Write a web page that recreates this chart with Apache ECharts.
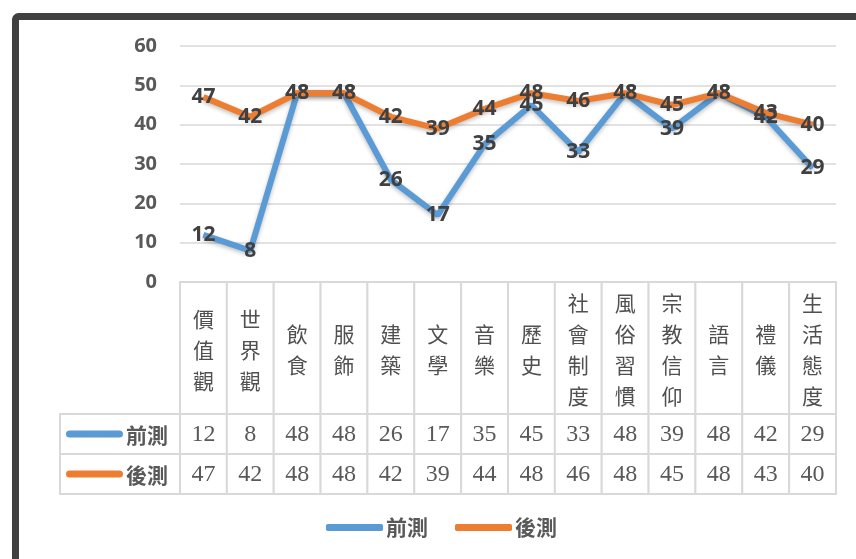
<!DOCTYPE html>
<html>
<head>
<meta charset="utf-8">
<script src="https://cdn.jsdelivr.net/npm/echarts@6/dist/echarts.min.js"></script>
<style>
  html, body { margin: 0; padding: 0; background: #fff; }
  #chart { width: 856px; height: 559px; }
</style>
</head>
<body>
<div id="chart"></div>
<script>
// 類別與數值
var categories = ["價值觀", "世界觀", "飲食", "服飾", "建築", "文學", "音樂", "歷史", "社會制度", "風俗習慣", "宗教信仰", "語言", "禮儀", "生活態度"];
var seriesNames = ["前測", "後測"];
var preTest = [12, 8, 48, 48, 26, 17, 35, 45, 33, 48, 39, 48, 42, 29];
var postTest = [47, 42, 48, 48, 42, 39, 44, 48, 46, 48, 45, 48, 43, 40];
var yTicks = [0, 10, 20, 30, 40, 50, 60];

var colors = ["#5B9BD5", "#ED7D31"];
var gridColor = "#d9d9d9";
var cjk = "'Noto Sans CJK TC', 'Noto Sans', sans-serif";

var chart = echarts.init(document.getElementById("chart"));

// 表格資料
var headerData = categories.map(function (c, i) { return [i, 0]; });
var rowData = [];
preTest.forEach(function (v, i) { rowData.push([i, 0, v]); });
postTest.forEach(function (v, i) { rowData.push([i, 1, v]); });
var legendRows = seriesNames.map(function (n, i) { return [0, i]; });

function cellRect(api) {
  var c = api.coord([api.value(0), api.value(1)]);
  var s = api.size([1, 1]);
  return { x: c[0] - s[0] / 2, y: c[1] - s[1] / 2, width: s[0], height: s[1], cx: c[0], cy: c[1] };
}

var lineLabel = { show: true, position: "inside", fontFamily: "'Open Sans', sans-serif", fontSize: 21, fontWeight: "bold", color: "#404040" };

var option = {
  backgroundColor: "#fff",
  animation: false,
  color: colors,
  graphic: [
    {
      type: "rect",
      shape: { x: 15.5, y: 16.5, width: 900, height: 600, r: 3 },
      style: { fill: "none", stroke: "#404040", lineWidth: 7 },
      z: 100
    }
  ],
  legend: {
    data: seriesNames.map(function (n) { return { name: n, icon: "roundRect" }; }),
    left: 326,
    top: 517,
    padding: 0,
    itemWidth: 57,
    itemHeight: 7,
    itemGap: 27,
    textStyle: { fontFamily: cjk, fontSize: 21, fontWeight: "bold", color: "#595959", padding: [0, 0, 0, -2] }
  },
  grid: [
    { left: 180, top: 46, width: 656, height: 236 },
    { left: 180, top: 282, width: 656, height: 132 },
    { left: 180, top: 414, width: 656, height: 80 },
    { left: 60, top: 414, width: 120, height: 80 }
  ],
  xAxis: [
    { gridIndex: 0, type: "category", data: categories, boundaryGap: true,
      axisLine: { show: false }, axisTick: { show: false }, axisLabel: { show: false } },
    { gridIndex: 1, type: "category", data: categories, show: false },
    { gridIndex: 2, type: "category", data: categories, show: false },
    { gridIndex: 3, type: "category", data: ["x"], show: false }
  ],
  yAxis: [
    { gridIndex: 0, type: "value", min: yTicks[0], max: yTicks[yTicks.length - 1], interval: 10,
      axisLine: { show: false }, axisTick: { show: false },
      axisLabel: { margin: 23, fontFamily: "'Open Sans', sans-serif", fontSize: 20, fontWeight: "bold", color: "#595959" },
      splitLine: { lineStyle: { color: gridColor, width: 1.5 } } },
    { gridIndex: 1, type: "category", data: ["h"], show: false },
    { gridIndex: 2, type: "category", data: seriesNames, inverse: true, show: false },
    { gridIndex: 3, type: "category", data: seriesNames, inverse: true, show: false }
  ],
  series: [
    {
      name: seriesNames[0], type: "line", data: preTest, xAxisIndex: 0, yAxisIndex: 0,
      symbol: "circle", symbolSize: 1, showSymbol: true,
      lineStyle: { width: 6, color: colors[0], shadowColor: "rgba(0,0,0,0.25)", shadowBlur: 4, shadowOffsetY: 2 },
      itemStyle: { color: colors[0] },
      label: lineLabel,
      z: 3
    },
    {
      name: seriesNames[1], type: "line", data: postTest, xAxisIndex: 0, yAxisIndex: 0,
      symbol: "circle", symbolSize: 1, showSymbol: true,
      lineStyle: { width: 6, color: colors[1], shadowColor: "rgba(0,0,0,0.25)", shadowBlur: 4, shadowOffsetY: 2 },
      itemStyle: { color: colors[1] },
      label: lineLabel,
      z: 4
    },
    {
      name: "header", type: "custom", xAxisIndex: 1, yAxisIndex: 1, data: headerData,
      renderItem: function (params, api) {
        var r = cellRect(api);
        var txt = categories[params.dataIndex].split("").join("\n");
        return { type: "group", children: [
          { type: "rect", shape: { x: r.x, y: r.y, width: r.width, height: r.height },
            style: { fill: "#fff", stroke: gridColor, lineWidth: 2 } },
          { type: "text", style: { text: txt, x: r.cx, y: r.cy + 2, align: "center", verticalAlign: "middle",
            fontFamily: cjk, fontSize: 21, lineHeight: 31, fill: "#505050" } }
        ] };
      }
    },
    {
      name: "rows", type: "custom", xAxisIndex: 2, yAxisIndex: 2, data: rowData,
      renderItem: function (params, api) {
        var r = cellRect(api);
        return { type: "group", children: [
          { type: "rect", shape: { x: r.x, y: r.y, width: r.width, height: r.height },
            style: { fill: "#fff", stroke: gridColor, lineWidth: 2 } },
          { type: "text", style: { text: String(api.value(2)), x: r.cx, y: r.cy + 1, align: "center", verticalAlign: "middle",
            fontFamily: "'Liberation Serif', serif", fontSize: 24, fill: "#595959" } }
        ] };
      }
    },
    {
      name: "rowLegend", type: "custom", xAxisIndex: 3, yAxisIndex: 3, data: legendRows,
      renderItem: function (params, api) {
        var r = cellRect(api);
        var i = params.dataIndex;
        return { type: "group", children: [
          { type: "rect", shape: { x: r.x, y: r.y, width: r.width, height: r.height },
            style: { fill: "#fff", stroke: gridColor, lineWidth: 2 } },
          { type: "rect", shape: { x: r.x + 6, y: r.cy - 3.5, width: 57, height: 7, r: 3.5 },
            style: { fill: colors[i] } },
          { type: "text", style: { text: seriesNames[i], x: r.x + 66, y: r.cy + 1, align: "left", verticalAlign: "middle",
            fontFamily: cjk, fontSize: 21, fontWeight: "bold", fill: "#595959" } }
        ] };
      }
    }
  ]
};

chart.setOption(option);
</script>
</body>
</html>
